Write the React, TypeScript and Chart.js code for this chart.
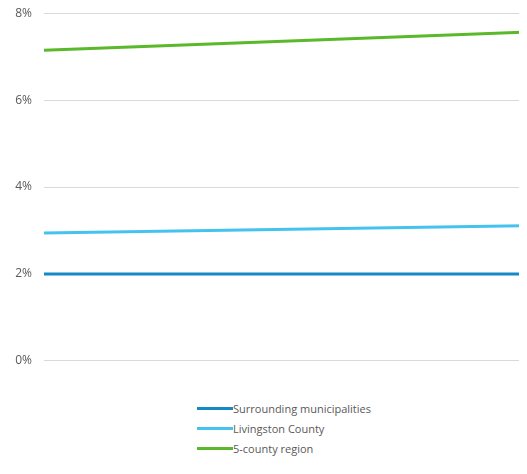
import React, { useEffect, useRef } from 'react';
import Chart from 'chart.js/auto';

const categories = ['', ''];
const surrounding = [2.0, 2.0];
const livingston = [2.94, 3.11];
const fiveCounty = [7.15, 7.56];
const yTicks = [0, 2, 4, 6, 8];

const seriesNames = ['Surrounding municipalities', 'Livingston County', '5-county region'];
const seriesColors = ['#1589c5', '#45c3ef', '#5ab82a'];

const FONT = '"Open Sans", "Liberation Sans", sans-serif';

export default function App() {
    const chartRef = useRef<HTMLCanvasElement | null>(null);
    const chartInstance = useRef<Chart | null>(null);

    useEffect(() => {
        if (!chartRef.current) return;
        const ctx = chartRef.current.getContext('2d');
        if (!ctx) return;
        const values = [surrounding, livingston, fiveCounty];
        chartInstance.current = new Chart(ctx, {
            type: 'line',
            data: {
                labels: categories,
                datasets: values.map((d, i) => ({
                    label: seriesNames[i],
                    data: d,
                    borderColor: seriesColors[i],
                    backgroundColor: seriesColors[i],
                    borderWidth: 3,
                    pointRadius: 0,
                    tension: 0,
                })),
            },
            options: {
                animation: false,
                responsive: false,
                maintainAspectRatio: false,
                layout: { padding: { top: 7, right: 5, bottom: 0, left: 0 } },
                plugins: {
                    legend: { display: false },
                    tooltip: { enabled: false },
                },
                scales: {
                    x: {
                        display: false,
                        offset: false,
                    },
                    y: {
                        min: yTicks[0],
                        max: yTicks[yTicks.length - 1],
                        afterBuildTicks: (scale: any) => {
                            scale.ticks = yTicks.map(v => ({ value: v }));
                        },
                        afterFit: (scale: any) => {
                            scale.width = 44;
                        },
                        border: { display: false },
                        grid: { color: '#d9d9d9', lineWidth: 1, drawTicks: false },
                        ticks: {
                            padding: 12,
                            color: '#595959',
                            font: { family: FONT, size: 12 },
                            callback: (v: any) => v + '%',
                        },
                    },
                },
            },
        });
        return () => {
            if (chartInstance.current) {
                chartInstance.current.destroy();
            }
        };
    }, []);

    return (
        <div style={{ position: 'relative', width: 527, height: 474, margin: -8, background: '#fff', overflow: 'hidden' }}>
            <canvas ref={chartRef} width={527} height={386} style={{ display: 'block', marginTop: -6 }} />
            <div style={{ position: 'absolute', left: 197, top: 398, fontFamily: FONT, fontSize: 11, color: '#595959' }}>
                {seriesNames.map((name, i) => (
                    <div key={name} style={{ display: 'flex', alignItems: 'center', height: 20 }}>
                        <span style={{ display: 'inline-block', width: 36, height: 3, background: seriesColors[i] }} />
                        <span>{name}</span>
                    </div>
                ))}
            </div>
        </div>
    );
}
